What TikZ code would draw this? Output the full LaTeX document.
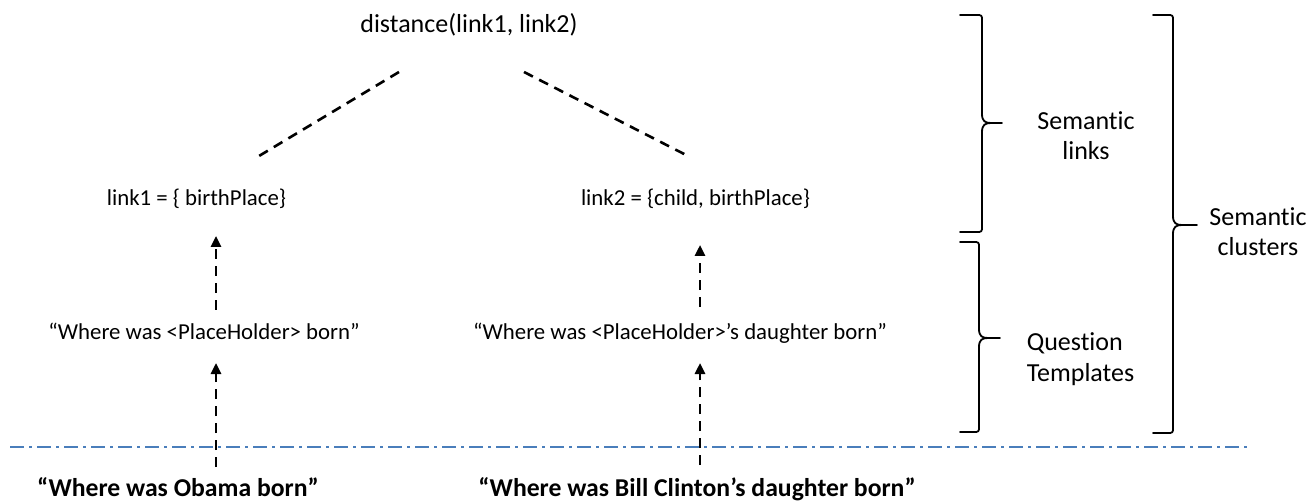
\documentclass[tikz,border=0pt]{standalone}
\usepackage{fontspec}
\setmainfont{Carlito}[Ligatures=NoCommon]
\usetikzlibrary{arrows.meta,calc}
\definecolor{sepblue}{RGB}{74,126,187}

% right curly brace: end x, spine x, tip x, top y, middle y, bottom y
\newcommand\drawbrace[6]{%
  \draw[bracepath] (#1,#4) -- ({#2-6},#4) .. controls (#2,#4) .. (#2,{#4+6})
    -- (#2,{#5-9}) .. controls (#2,{#5-2}) and ({#2+3},#5) .. ({#2+9},#5) -- (#3,#5)
    ({#2+9},#5) .. controls ({#2+3},#5) and (#2,{#5+2}) .. (#2,{#5+9})
    -- (#2,{#6-6}) .. controls (#2,#6) .. ({#2-6},#6) -- (#1,#6);}

\begin{document}
\begin{tikzpicture}[x=1pt,y=-1pt,
  every node/.style={inner sep=0pt,outer sep=0pt,anchor=base},
  toptext/.style={font=\fontsize{26}{30}\selectfont,text height=19pt,text depth=6pt},
  linktext/.style={font=\fontsize{22.8}{27}\selectfont,text height=16pt,text depth=5pt},
  tpltext/.style={font=\fontsize{22.8}{27}\selectfont,text height=16pt,text depth=5pt},
  qtext/.style={font=\fontsize{25.7}{30}\selectfont\bfseries,text height=19pt,text depth=6pt},
  sidelabel/.style={font=\fontsize{26}{30.5}\selectfont},
  dline/.style={line width=2.6pt,dash pattern=on 10pt off 7pt},
  uparrow/.style={line width=2.6pt,dash pattern=on 10pt off 7pt,
    -{Triangle[width=10pt,length=11pt]}},
  bracepath/.style={line width=1.8pt,line join=round,line cap=round},
  sepline/.style={draw=sepblue,line width=2pt,dash pattern=on 14pt off 5pt on 3pt off 5pt}
]
\useasboundingbox (0,0) rectangle (1311,502);

% text rows
\node[toptext] (dist) at (469,33) {distance(link1, link2)};
\node[linktext] (l1) at (196.5,206) {link1 = \{ birthPlace\}};
\node[linktext] (l2) at (695.5,206) {link2 = \{child, birthPlace\}};
\node[tpltext] (t1) at (204,339) {“Where was <PlaceHolder> born”};
\node[tpltext] (t2) at (680,339) {“Where was <PlaceHolder>’s daughter born”};
\node[qtext] (q1) at (178,496) {“Where was Obama born”};
\node[qtext] (q2) at (697,496) {“Where was Bill Clinton’s daughter born”};

% labels beside the braces (anchored on the baseline of their last line)
\node[sidelabel,align=center] (semlinks) at (1086,160) {Semantic\\links};
\node[sidelabel,align=center] (semclus) at (1258,256) {Semantic\\clusters};
\node[sidelabel,align=left] (qtpl) at (1080.5,381) {Question\\Templates};

% arrow columns
\coordinate (colL) at (216,0);
\coordinate (colR) at (700,0);

% separator between questions and templates
\draw[sepline] (10,447) -- (1250,447);

% links joined by the distance
\draw[dline] ([shift={(-70,33)}]dist.south) -- ([shift={(62.5,-34)}]l1.north);
\draw[dline] ([shift={(55,33)}]dist.south) -- ([shift={(-7.5,-34)}]l2.north);

% templates map to links
\draw[uparrow,shorten <=13pt,shorten >=25pt] (t1.north -| colL) -- (l1.south -| colL);
\draw[uparrow,shorten <=16pt,shorten >=34pt] (t2.north -| colR) -- (l2.south -| colR);

% questions map to templates
\draw[uparrow,shorten <=10pt,shorten >=19pt] (q1.north -| colL) -- (t1.south -| colL);
\draw[uparrow,shorten <=12pt,shorten >=19pt] (q2.north -| colR) -- (t2.south -| colR);

% braces
\drawbrace{960}{982}{1002}{15}{123}{232}
\drawbrace{960}{979}{1000}{242}{338}{432}
\drawbrace{1153}{1173}{1197}{15}{225}{433}
\end{tikzpicture}
\end{document}
